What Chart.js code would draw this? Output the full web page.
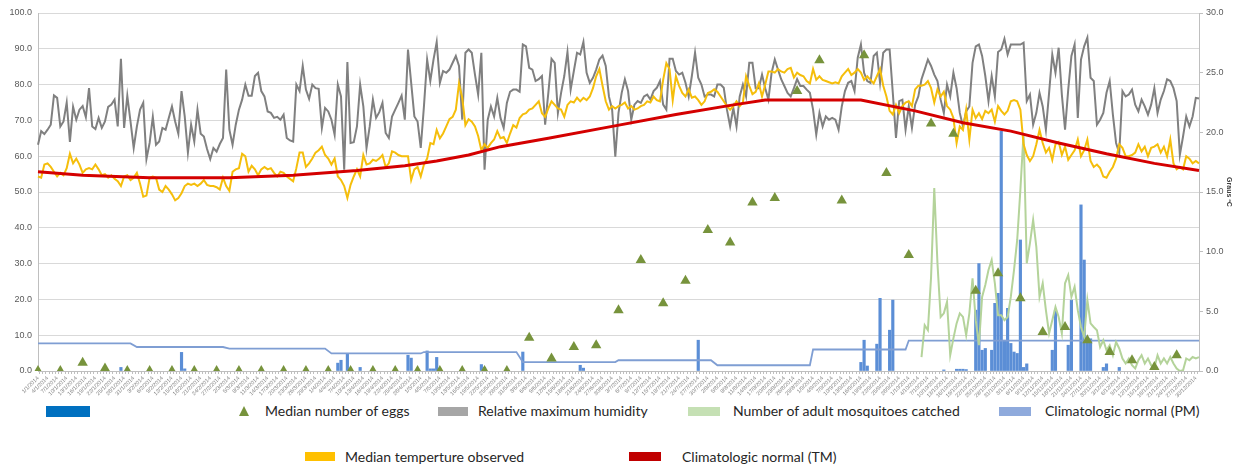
<!DOCTYPE html>
<html>
<head>
<meta charset="utf-8">
<script src="https://cdn.jsdelivr.net/npm/chart.js@4.4.1/dist/chart.umd.min.js"></script>
<style>
  body { margin: 0; background: #fff; }
  #wrap { position: relative; width: 1242px; height: 469px; font-family: Lato, "Open Sans", sans-serif; color: #262626; }
  #myChart { position: absolute; left: 0; top: 0; }
  .lg { position: absolute; font-size: 14px; line-height: 16px; white-space: nowrap; }
  .sw { position: absolute; height: 9px; }
  .tri { position: absolute; width: 0; height: 0; border-left: 5px solid transparent; border-right: 5px solid transparent; border-bottom: 10px solid #77933C; }
</style>
</head>
<body>
<div id="wrap">
  <canvas id="myChart" width="1242" height="400"></canvas>

  <!-- leyenda -->
  <div class="sw" style="left:46px;top:406px;width:44px;height:11px;background:#0070C0"></div>
  <div class="tri" style="left:239px;top:406px"></div>
  <div class="lg" style="left:265px;top:403px">Median number of eggs</div>
  <div class="sw" style="left:438px;top:407px;width:30px;background:#A6A6A6"></div>
  <div class="lg" style="left:478px;top:403px">Relative maximum humidity</div>
  <div class="sw" style="left:688px;top:407px;width:32px;background:#C5E0B4"></div>
  <div class="lg" style="left:733px;top:403px">Number of adult mosquitoes catched</div>
  <div class="sw" style="left:999px;top:407px;width:32px;background:#8FAADC"></div>
  <div class="lg" style="left:1045px;top:403px">Climatologic normal (PM)</div>
  <div class="sw" style="left:305px;top:452px;width:30px;background:#FFC000"></div>
  <div class="lg" style="left:345px;top:449px">Median temperture observed</div>
  <div class="sw" style="left:629px;top:452px;width:32px;background:#C00000"></div>
  <div class="lg" style="left:682px;top:449px">Climatologic normal (TM)</div>
</div>

<script>
// Etiquetas diarias (1 año)
const labels = [];
const start = new Date(2014, 0, 1);
for (let i = 0; i < 365; i++) {
    const d = new Date(start.getFullYear(), start.getMonth(), start.getDate() + i);
    labels.push(d.getDate() + '/' + (d.getMonth() + 1) + '/' + d.getFullYear());
}

// Humedad relativa máxima (%)
const humidity = [
    63.2, 67, 66.2, 67.4, 68.8, 77, 76.3, 68.3, 69.7, 75,
    64, 73.8, 70.2, 73, 74, 70.9, 79, 68.3, 67.6, 70.7,
    67.9, 69.7, 73.8, 74.4, 75.8, 68.3, 87.2, 67.9, 76.9, 69.7,
    62.3, 68.3, 73, 74.9, 59.2, 63.7, 71, 63.2, 64.1, 67.9,
    67.4, 70.7, 73.9, 69.7, 66.3, 78.2, 71.1, 61, 68.8, 64.1,
    73, 66.3, 65.5, 62, 59.2, 62.3, 61.3, 63.4, 65.1, 84.2,
    67.4, 63.2, 68.8, 73, 75.8, 80, 76.9, 76.9, 82.4, 83.3,
    78.2, 76.7, 72.5,
    72.1, 70.7, 71, 70.2, 71.6, 65.1, 64.4, 64.1, 80, 78.2,
    85.2, 78.6, 76, 80, 79, 78.8, 67.9, 73.5, 72.5, 70.2,
    66, 80, 76.7, 56.2, 86.3, 63.7, 63.9, 68.3, 80, 73.9,
    62.3, 68.3, 75.8, 70.7, 72.3, 74.9, 66.5, 65.1, 71.1, 73,
    74.9, 76.9, 70.2, 89.8, 80.5, 71.1, 69.7, 62.3, 73.9, 87,
    81, 87, 91.9, 80.5, 83.8, 83.3, 84.2, 86.1, 88, 85.2,
    70.2, 88.9, 89.8, 88.9, 82.8, 77.2, 88.9, 56.2, 70.2, 73.9,
    71.1, 76.3, 70.7, 67.9,
    74.9, 78, 78.6, 78.6, 78, 91.2, 90.7, 84.7, 84.2, 81,
    81.5, 82.4, 68.8, 77.7, 87.2, 86.1, 72.1, 77.7, 82.4, 89.1,
    78.6, 83.8, 88.9, 88.4, 91.9, 83.3, 80.5, 81.9, 84.2, 87,
    88.1, 85.2, 76.7, 73, 59.9, 72.1, 77.7, 81.5, 78.2, 70.2,
    74.4, 75.4, 74.9, 76.7, 77.2, 75.8, 78.2, 79.1, 81, 74.4,
    73, 87.2, 87.2, 83.8, 82.8, 83.3, 80.5, 76.7, 82.4, 88.9,
    81.9, 80, 76.7, 77.2, 77.2, 76.7, 80, 80, 79.1, 73,
    68.3, 73.5,
    68.3, 76.7, 80, 76.7, 86.1, 86.1, 79, 79, 82.8, 79,
    75.8, 83.3, 87, 84.2, 81.5, 79.6, 77.7, 76.7, 79, 81.5,
    79.6, 79.6, 78.6, 77.7, 73, 66, 72.1, 68.3, 71.1, 70.2,
    70.7, 70.2, 67.4, 73.9, 78.2, 80.5, 81, 78.2, 87.5, 91.2,
    83.3, 81, 80.5, 88, 88.9, 80.5, 88.9, 89.8, 89.8, 77.7,
    65.1, 75.4, 75.8, 67.4, 73.9, 67.9, 74.4, 76.7, 81.5, 84.2,
    87, 85.2, 82.8, 81, 75.8, 72.1, 80, 76.7, 83.3, 79,
    72.1, 68.3, 72.5,
    73.9, 86.1, 90.7, 91.2, 88, 82.4, 75.4, 82.4, 76.7, 89.1,
    89.8, 92.8, 88.4, 91.2, 91.2, 91.2, 91.2, 91.7, 75.4, 77.2,
    68.8, 72.1, 77.7, 73.9, 67.4, 77.7, 88.4, 83.3, 90.3, 77.2,
    67.4, 78.6, 88, 91.2, 70.7, 87, 90.7, 93.1, 81.9, 81,
    68.8, 70.2, 72.1, 77.7, 81, 71.6, 63.7, 60.9, 78.2, 76.7,
    77.2, 78.6, 74.4, 72.5, 75.8, 73.9, 71.6, 74.4, 79, 72.1,
    75.8, 78.2, 81.5, 81, 79, 75.4, 60.4, 65.5, 71.1, 68.3,
    71.1, 76.3, 76.1
];

// Temperatura mediana observada (ºC)
const temperature = [
    16.3, 16.2, 17.3, 17.4, 17.1, 16.7, 16.3, 16.6, 16.4, 17.0,
    18.2, 17.4, 17.8, 17.3, 16.6, 16.9, 17.0, 16.9, 17.3, 16.9,
    16.4, 16.5, 16.2, 16.4, 16.1, 15.9, 15.5, 16.3, 16.4, 16.0,
    16.2, 16.6, 15.7, 14.6, 14.7, 16.2, 16.3, 16.2, 15.2, 15.0,
    15.5, 15.2, 14.8, 14.3, 14.5, 14.9, 15.5, 15.7, 15.6, 15.7,
    15.5, 15.7, 16.0, 15.6, 15.5, 15.5, 15.4, 15.2, 16.2, 15.5,
    15.1, 16.7, 16.9, 17.0, 18.2, 18.0, 16.7, 17.2, 16.9, 16.4,
    16.9,
    17.1, 16.9, 17.0, 16.6, 16.3, 16.7, 16.6, 16.3, 16.1, 15.9,
    17.0, 18.3, 18.3, 17.1, 17.4, 17.8, 18.3, 18.5, 18.8, 18.1,
    17.8, 17.3, 17.8, 16.3, 16.0, 15.5, 14.5, 15.6, 16.3, 16.9,
    16.3, 18.1, 17.3, 17.4, 17.7, 17.6, 17.8, 18.1, 17.1, 17.4,
    18.4, 18.3, 18.1, 18.0, 18.0, 18.0, 16.0, 16.9, 17.1, 16.3,
    17.3, 17.8, 19.1, 19.0, 20.2, 19.5, 19.9, 20.5, 21.1, 21.3,
    21.9, 24.1, 22.9, 20.6, 21.1, 20.9, 20.5, 19.7, 18.5, 19.0,
    18.7, 19.1, 19.4, 20.1, 19.5, 19.6,
    19.1, 19.9, 20.6, 20.4, 21.2, 21.5, 21.6, 21.9, 22.0, 22.3,
    22.6, 21.6, 21.3, 22.0, 22.6, 22.3, 22.0, 21.9, 21.3, 22.3,
    22.6, 22.5, 22.9, 22.6, 22.9, 22.7, 23.0, 23.7, 24.7, 25.3,
    23.9, 22.6, 21.9, 22.2, 22.0, 22.2, 22.3, 22.5, 22.0, 22.2,
    21.9, 22.0, 22.2, 22.3, 22.6, 22.5, 23.0, 22.7, 22.6, 24.4,
    25.8, 25.3, 22.7, 24.7, 23.9, 23.3, 23.0, 23.6, 22.9, 23.0,
    22.7, 22.3, 22.6, 23.3, 23.4, 23.6, 23.4, 23.0, 22.6, 22.2,
    21.9,
    22.2, 22.6, 22.2, 22.5, 24.7, 23.9, 23.2, 23.4, 24.1, 23.0,
    24.0, 25.1, 25.1, 25.0, 25.3, 25.1, 25.0, 25.3, 25.4, 24.6,
    25.0, 24.8, 24.7, 24.3, 24.1, 25.3, 24.4, 24.7, 24.4, 24.3,
    24.2, 24.1, 24.2, 24.1, 24.7, 25.0, 25.3, 24.8, 25.0, 25.3,
    25.0, 24.4, 24.7, 24.4, 24.1, 24.7, 25.3, 23.9, 23.0, 21.8,
    21.5, 22.3, 21.6, 22.2, 22.5, 22.6, 22.2, 23.6, 23.9, 23.9,
    24.0, 24.3, 23.7, 22.5, 23.6, 23.0, 23.4, 22.2, 21.9, 21.2,
    19.1, 20.5, 20.2,
    21.9, 19.4, 21.9, 21.2, 21.6, 21.1, 21.8, 21.6, 21.9, 20.9,
    22.2, 21.8, 21.5, 21.8, 22.6, 22.7, 22.6, 21.9, 19.0, 18.1,
    17.6, 18.0, 19.0, 20.2, 19.1, 18.3, 18.7, 17.7, 19.0, 19.2,
    18.1, 18.8, 17.7, 18.1, 18.5, 19.4, 18.0, 18.5, 19.4, 17.6,
    17.1, 17.3, 17.0, 16.3, 16.2, 16.7, 17.1, 17.8, 19.0, 18.7,
    18.0, 18.0, 18.1, 18.3, 19.0, 18.4, 18.8, 18.0, 18.7, 18.8,
    19.0, 18.3, 18.8, 18.0, 19.4, 17.4, 16.9, 17.1, 16.9, 18.0,
    17.8, 17.4, 17.6, 17.4
];

// Normal climatológica (TM), puntos de referencia
const tmDays = [0, 14, 35, 60, 80, 100, 115, 125, 135, 145, 160, 180, 200, 218, 228, 258, 275, 290, 305, 320, 335, 350, 364];
const tmVals = [16.7, 16.4, 16.2, 16.2, 16.4, 16.8, 17.2, 17.6, 18.1, 18.8, 19.5, 20.5, 21.5, 22.3, 22.7, 22.7, 21.8, 20.8, 20.1, 19.1, 18.2, 17.4, 16.8];

// Normal climatológica (PM)
const pmDays = [0, 29, 31, 58, 60, 90, 92, 120, 121, 150, 152, 181, 182, 211, 213, 242, 243, 272, 273, 364];
const pmVals = [7.7, 7.7, 6.7, 6.7, 6.25, 6.25, 4.9, 4.9, 5.3, 5.3, 2.5, 2.5, 3.0, 3.0, 1.6, 1.6, 6.0, 6.0, 8.5, 8.5];

// Precipitación diaria
const rainDays = [26, 45, 46, 94, 95, 97, 101, 116, 117, 122, 123, 124, 125, 139, 140, 152, 170, 171, 207,
    258, 259, 260, 263, 264, 267, 268, 284, 288, 289, 290, 291, 294, 295, 296, 297,
    299, 300, 301, 302, 303, 304, 305, 306, 307, 308, 309, 310,
    318, 319, 323, 324, 327, 328, 329, 330, 334, 335, 339];
const rainVals = [1.0, 5.2, 0.6, 2.2, 3.0, 4.7, 1.0, 4.4, 3.6, 5.6, 0.6, 0.6, 3.8, 1.8, 1.0, 5.3, 1.6, 0.8, 8.6,
    2.4, 8.6, 1.4, 7.5, 20.3, 11.4, 19.8, 0.3, 0.5, 0.5, 0.5, 0.4, 17, 30, 5.8, 6.3,
    5.8, 18.9, 21.7, 67, 8.6, 17.5, 7.7, 5.3, 4.9, 36.6, 1.0, 2.0,
    5.8, 17, 7.2, 19.8, 46.4, 31, 8.6, 9.0, 1.0, 2.0, 1.0];

// Mosquitos adultos capturados (desde el día 277)
const mosqStart = 277;
const mosquitoes = [
    3.9, 12.8, 11.4, 26.3, 51.1, 30.1, 15.1, 16.1, 19.3, 4.4,
    9.1, 13.3, 16.1, 15.1, 10, 16.1, 25.9, 14.2, 7.2, 20.7,
    24, 28.2, 31, 24.5, 15.6, 15.6, 14.2, 15.1, 20.7, 28.2,
    36.6, 50.6, 66.5, 30.1, 35.7, 42.2, 34.7, 20.7, 24.5, 17,
    10.5, 14.2, 17.9, 15.1, 10.5, 24.5, 26.8, 20.7, 23.5, 17,
    12.3, 9.5, 19.8, 13.3, 12.3, 11.4, 6.7, 8.6, 5.8, 7.2,
    4.4, 8.1, 6.3, 3.5, 2.1, 3.5, 1.6, 0.7, 3, 4.4,
    2.1, 3.5, 1.6, 0.9, 4.4, 2.1, 3.5, 2.1, 3.9, 2.1,
    0.7, 0, 0.2, 3.5, 3, 3.9, 3.5, 3.9
];

// Mediana de huevos (semanal)
const eggs = [
    0, 0, 2.3, 0.7, 0, 0, 0, 0, 0, 0,
    0, 0, 0, 0, 0, 0, 0, 0, 0, 0,
    0, 0, 9.3, 3.5, 6.7, 7.2, 17, 31, 18.9, 25.2,
    39.4, 35.9, 47.1, 48.3, 78.2, 86.8, 47.6, 88.2, 55.3, 32.4,
    69.1, 66.3, 22.4, 27.3, 20.3, 10.9, 12.3, 8.6, 5.3, 3,
    1.1, 4.4
];

function sparse(days, vals) {
    const arr = new Array(labels.length).fill(null);
    days.forEach((d, i) => { arr[d] = vals[i]; });
    return arr;
}

const eggData = sparse(eggs.map((v, i) => i * 7), eggs);
const mosqData = sparse(mosquitoes.map((v, i) => mosqStart + i), mosquitoes);

var ctx = document.getElementById('myChart').getContext('2d');

var myChart = new Chart(ctx, {
    type: 'line',
    data: {
        labels: labels,
        datasets: [
            {
                label: 'Median number of eggs',
                data: eggData,
                showLine: false,
                pointStyle: 'triangle',
                pointRadius: 6,
                backgroundColor: '#77933C',
                borderColor: '#77933C',
                borderWidth: 0,
                yAxisID: 'y',
                order: 0
            },
            {
                label: 'Climatologic normal (TM)',
                data: sparse(tmDays, tmVals),
                spanGaps: true,
                borderColor: '#D40000',
                borderWidth: 3,
                pointRadius: 0,
                yAxisID: 'y1',
                order: 1
            },
            {
                label: 'Median temperture observed',
                data: temperature,
                borderColor: '#F5BE0B',
                borderWidth: 2,
                pointRadius: 0,
                yAxisID: 'y1',
                order: 2
            },
            {
                label: 'Relative maximum humidity',
                data: humidity,
                borderColor: '#808080',
                borderWidth: 2,
                pointRadius: 0,
                yAxisID: 'y',
                order: 3
            },
            {
                label: 'Number of adult mosquitoes catched',
                data: mosqData,
                borderColor: '#B4D39A',
                borderWidth: 2,
                pointRadius: 0,
                yAxisID: 'y',
                order: 4
            },
            {
                label: 'Climatologic normal (PM)',
                data: sparse(pmDays, pmVals),
                spanGaps: true,
                borderColor: '#7F9ED3',
                borderWidth: 1.8,
                pointRadius: 0,
                yAxisID: 'y',
                order: 5
            },
            {
                type: 'bar',
                label: '',
                data: sparse(rainDays, rainVals),
                backgroundColor: '#5B8ED6',
                barThickness: 2.5,
                grouped: false,
                yAxisID: 'y',
                order: 6
            }
        ]
    },
    options: {
        responsive: false,
        animation: false,
        layout: { padding: { top: 13, left: 0, right: 9, bottom: 0 } },
        elements: { line: { tension: 0 } },
        scales: {
            x: {
                offset: false,
                grid: { drawOnChartArea: false, drawTicks: true, tickLength: 3, color: '#bfbfbf' },
                border: { color: '#bfbfbf' },
                ticks: {
                    autoSkip: false,
                    minRotation: 45,
                    maxRotation: 45,
                    padding: 1,
                    color: '#7f7f7f',
                    font: { size: 5.5, family: 'Liberation Sans' },
                    callback: (v, i) => (i % 3 === 0 ? labels[i] : '')
                },
                afterFit: s => { s.height = 29; }
            },
            y: {
                min: 0,
                max: 100,
                ticks: {
                    stepSize: 10,
                    padding: 6,
                    color: '#595959',
                    font: { size: 9, family: 'Liberation Sans' },
                    callback: v => v.toFixed(1)
                },
                grid: { color: '#d9d9d9', drawTicks: false },
                border: { color: '#bfbfbf' },
                afterFit: s => { s.width = 38; }
            },
            y1: {
                position: 'right',
                min: 0,
                max: 30,
                ticks: {
                    stepSize: 5,
                    padding: 3,
                    color: '#595959',
                    font: { size: 9, family: 'Liberation Sans' },
                    callback: v => v.toFixed(1)
                },
                grid: { drawOnChartArea: false, tickLength: 4, color: '#bfbfbf' },
                border: { color: '#bfbfbf' },
                title: {
                    display: true,
                    text: 'Graus ºC',
                    color: '#404040',
                    padding: 0,
                    font: { size: 7, weight: 'bold', family: 'Liberation Sans' }
                },
                afterFit: s => { s.width = 34; }
            }
        },
        plugins: {
            legend: { display: false },
            tooltip: { enabled: false }
        }
    }
});
</script>
</body>
</html>
